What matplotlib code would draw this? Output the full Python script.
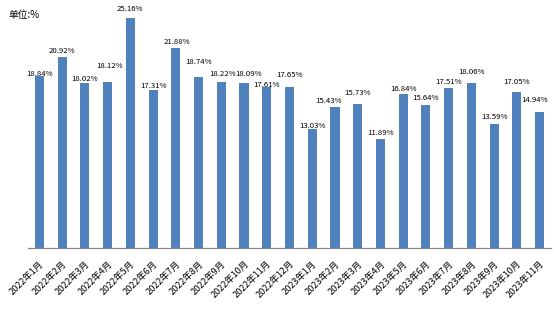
import matplotlib.pyplot as plt
import numpy as np

plt.rcParams["font.family"] = ["Noto Sans CJK SC", "DejaVu Sans"]

months = [f"2022年{m}月" for m in range(1, 13)] + [f"2023年{m}月" for m in range(1, 12)]
values = [18.84, 20.92, 18.02, 18.12, 25.16, 17.31, 21.88, 18.74, 18.22, 18.09, 17.61, 17.65,
          13.03, 15.43, 15.73, 11.89, 16.84, 15.64, 17.51, 18.06, 13.59, 17.05, 14.94]

# label nudges in pixels (label centre above bar top, horizontal shift)
label_rise = [2, 5.6, 4, 16, 8.7, 4, 6.6, 15, 7.5, 8.5, 2, 11.7,
              2.6, 6.3, 11, 6.3, 4.7, 6.7, 6, 10.7, 6.6, 10.7, 11.5]
label_shift = [0, 0, 0, 2, 0, 0, 1, 0, 1, 5, 0, 0,
               0, -6, 0, 0, 0, 0, 0, 0, 0, 0, -5]

fig = plt.figure(figsize=(5.54, 3.26), dpi=100)
ax = fig.add_axes([0.0505, 0.2393, 0.9441, 0.7297])
x = np.arange(len(values))
ax.bar(x, values, width=0.4, color="#4f81bd")
px = 72 / fig.dpi
for xi, v, rise, shift in zip(x, values, label_rise, label_shift):
    ax.annotate(f"{v:.2f}%", (xi, v), xytext=(shift * px, rise * px), textcoords="offset points",
                ha="center", va="center", fontsize=5.6, color="black")

ax.set_xlim(-0.5, len(values) - 0.5)
ax.set_ylim(0, 26.04)
ax.set_xticks(x)
ax.set_xticklabels(months, rotation=45, ha="right", rotation_mode="anchor", fontsize=6.6)
ax.tick_params(axis="x", length=0, pad=8)
ax.set_yticks([])
for side in ["top", "right", "left"]:
    ax.spines[side].set_visible(False)
ax.spines["bottom"].set_color("#888888")
ax.spines["bottom"].set_linewidth(0.9)

fig.text(0.015, 0.955, "单位:%", fontsize=7, va="center", ha="left")

fig.savefig("out.png", dpi=100)
